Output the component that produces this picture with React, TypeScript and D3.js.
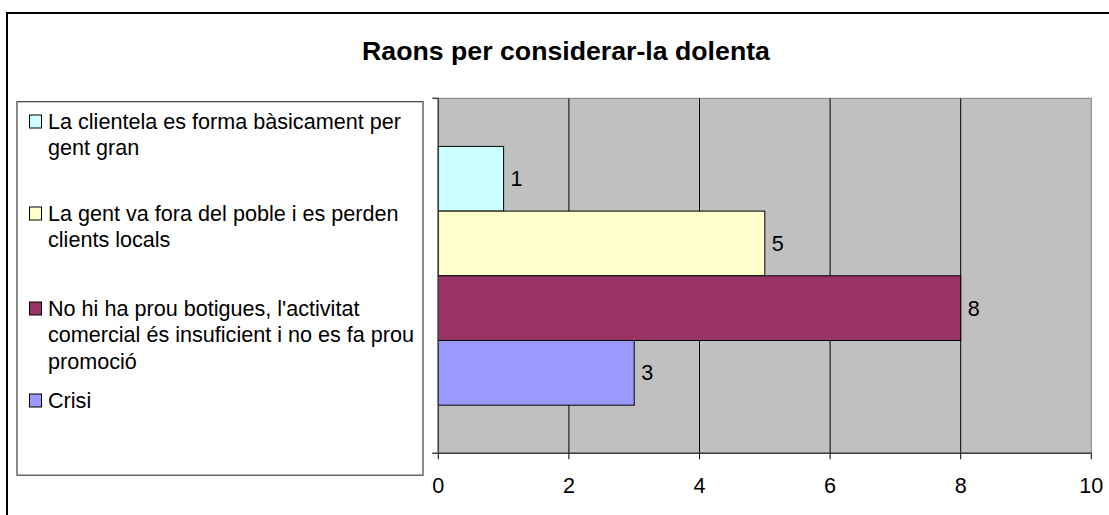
import React, { useEffect } from "react";
import * as d3 from "d3";

const title = "Raons per considerar-la dolenta";
const seriesNames = [
  ["La clientela es forma bàsicament per", "gent gran"],
  ["La gent va fora del poble i es perden", "clients locals"],
  ["No hi ha prou botigues, l'activitat", "comercial és insuficient i no es fa prou", "promoció"],
  ["Crisi"],
];
const seriesKeys = ["s1", "s2", "s3", "s4"];
const values = [1, 5, 8, 3];
const colors = ["#CCFFFF", "#FFFFCC", "#993366", "#9999FF"];
const xTicks = [0, 2, 4, 6, 8, 10];

const W = 1109;
const H = 515;
const FONT = "'Liberation Sans', Arial, sans-serif";

export default function App() {
  useEffect(() => {
    document.body.style.margin = "0";
  }, []);

  const plot = { left: 438.3, right: 1091.3, top: 98.3, bottom: 453.3 };
  const x = d3.scaleLinear().domain([0, 10]).range([plot.left, plot.right]);
  const y = d3
    .scaleBand<string>()
    .domain(seriesKeys)
    .range([plot.top, plot.bottom])
    .paddingInner(0)
    .paddingOuter(0.744);

  const legendItemsY = [121, 213, 308, 400];
  const lineH = 26.8;
  const fs = 21.6;

  return (
    <svg width={W} height={H} style={{ display: "block", fontFamily: FONT }}>
      <rect x={0} y={0} width={W} height={H} fill="#fff" />
      <rect x={7} y={13} width={1200} height={600} fill="none" stroke="#000" strokeWidth={2} />
      <text x={566} y={51} textAnchor="middle" dominantBaseline="central" fontSize={26.7} fontWeight="bold" fill="#000">
        {title}
      </text>

      {/* plot area */}
      <rect x={plot.left} y={plot.top} width={plot.right - plot.left} height={plot.bottom - plot.top} fill="#C0C0C0" stroke="#808080" strokeWidth={1} />
      {xTicks.slice(1, -1).map((t) => (
        <line key={"g" + t} x1={x(t)} x2={x(t)} y1={plot.top} y2={plot.bottom} stroke="#000" strokeWidth={1} />
      ))}

      {/* bars */}
      {seriesKeys.map((k, i) => (
        <g key={k}>
          <rect x={x(0)} y={y(k)!} width={x(values[i]) - x(0)} height={y.bandwidth()} fill={colors[i]} stroke="#000" strokeWidth={1} />
          <text x={x(values[i]) + 7} y={y(k)! + y.bandwidth() / 2} dominantBaseline="central" fontSize={fs} fill="#000">
            {values[i]}
          </text>
        </g>
      ))}

      {/* axes */}
      <line x1={plot.left} x2={plot.left} y1={plot.top} y2={plot.bottom} stroke="#404040" strokeWidth={1.5} />
      <line x1={plot.left - 6} x2={plot.left} y1={plot.top} y2={plot.top} stroke="#404040" strokeWidth={1.5} />
      <line x1={plot.left - 6} x2={plot.right} y1={plot.bottom} y2={plot.bottom} stroke="#404040" strokeWidth={1.5} />
      {xTicks.map((t) => (
        <g key={"t" + t}>
          <line x1={x(t)} x2={x(t)} y1={plot.bottom} y2={plot.bottom + 6} stroke="#000" strokeWidth={1} />
          <text x={x(t)} y={485} textAnchor="middle" dominantBaseline="central" fontSize={fs} fill="#000">
            {t}
          </text>
        </g>
      ))}

      {/* legend */}
      <rect x={17} y={101.7} width={406} height={373.5} fill="#fff" stroke="#404040" strokeWidth={1.2} />
      {seriesNames.map((lines, i) => (
        <g key={"l" + i}>
          <rect x={29.5} y={legendItemsY[i] - 6} width={12} height={13} fill={colors[i]} stroke="#000" strokeWidth={1} />
          {lines.map((ln, j) => (
            <text key={j} x={48} y={legendItemsY[i] + j * lineH} dominantBaseline="central" fontSize={fs} fill="#000">
              {ln}
            </text>
          ))}
        </g>
      ))}
    </svg>
  );
}
